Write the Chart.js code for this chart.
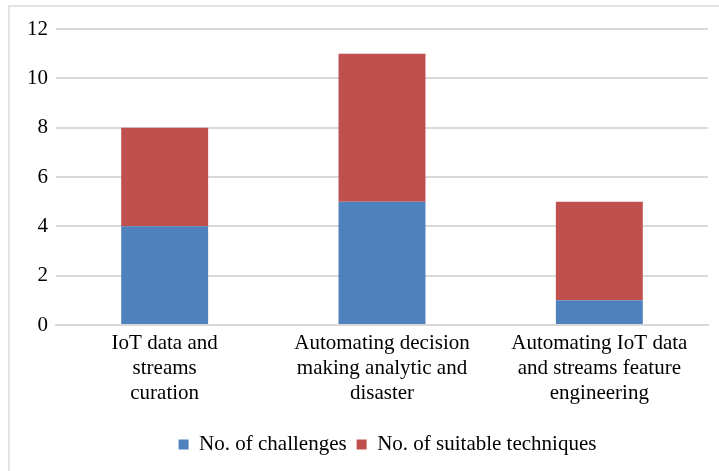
<!DOCTYPE html>
<html>
<head>
<meta charset="utf-8">
<script src="https://cdn.jsdelivr.net/npm/chart.js@4/dist/chart.umd.min.js"></script>
<style>
  html, body { margin: 0; padding: 0; background: #fff; }
  #wrap { position: relative; width: 719px; height: 471px; overflow: hidden; }
  #frame { position: absolute; left: 8px; top: 5px; width: 730px; height: 490px;
           border: 2px solid #e3e3e3; box-sizing: border-box; }
  canvas { position: absolute; left: 0; top: 0; }
</style>
</head>
<body>
<div id="wrap">
  <div id="frame"></div>
  <canvas id="c" width="719" height="471"></canvas>
</div>
<script>
const categories = [
  ["IoT data and", "streams", "curation"],
  ["Automating decision", "making analytic and", "disaster"],
  ["Automating IoT data", "and streams feature", "engineering"]
];
const challenges = [4, 5, 1];
const techniques = [4, 6, 4];
const yTicks = [0, 2, 4, 6, 8, 10, 12];

const FONT = "'Liberation Serif', 'Times New Roman', serif";

// nudges the legend block to the right of the plot centre
const legendShift = {
  id: 'legendShift',
  afterLayout(chart) {
    const lg = chart.legend;
    if (lg) { lg.left += 24; lg.right += 24; }
  }
};

new Chart(document.getElementById('c'), {
  type: 'bar',
  data: {
    labels: categories,
    datasets: [
      { label: 'No. of challenges', data: challenges, backgroundColor: '#4F81BD',
        barPercentage: 0.8, categoryPercentage: 0.5 },
      { label: 'No. of suitable techniques', data: techniques, backgroundColor: '#C0504D',
        barPercentage: 0.8, categoryPercentage: 0.5 }
    ]
  },
  plugins: [legendShift],
  options: {
    responsive: false,
    animation: false,
    layout: { padding: { left: 19, right: 11, top: 29, bottom: 6 } },
    plugins: {
      tooltip: { enabled: false },
      legend: {
        position: 'bottom',
        labels: {
          color: '#000',
          font: { family: FONT, size: 21 },
          boxWidth: 10, boxHeight: 10, padding: 10
        }
      }
    },
    scales: {
      x: {
        stacked: true,
        grid: { display: false, drawTicks: false },
        border: { display: true, color: '#d9d9d9', width: 2 },
        afterFit: (axis) => { axis.height += 12; },
        ticks: {
          color: '#000', padding: 6, maxRotation: 0, autoSkip: false,
          font: { family: FONT, size: 21, lineHeight: 1.19 }
        }
      },
      y: {
        stacked: true,
        min: 0, max: 12,
        afterBuildTicks: (axis) => { axis.ticks = yTicks.map(v => ({ value: v })); },
        grid: { color: '#d9d9d9', lineWidth: 2, drawTicks: false },
        border: { display: false },
        ticks: {
          color: '#000', padding: 8,
          font: { family: FONT, size: 21 }
        }
      }
    }
  }
});
</script>
</body>
</html>
